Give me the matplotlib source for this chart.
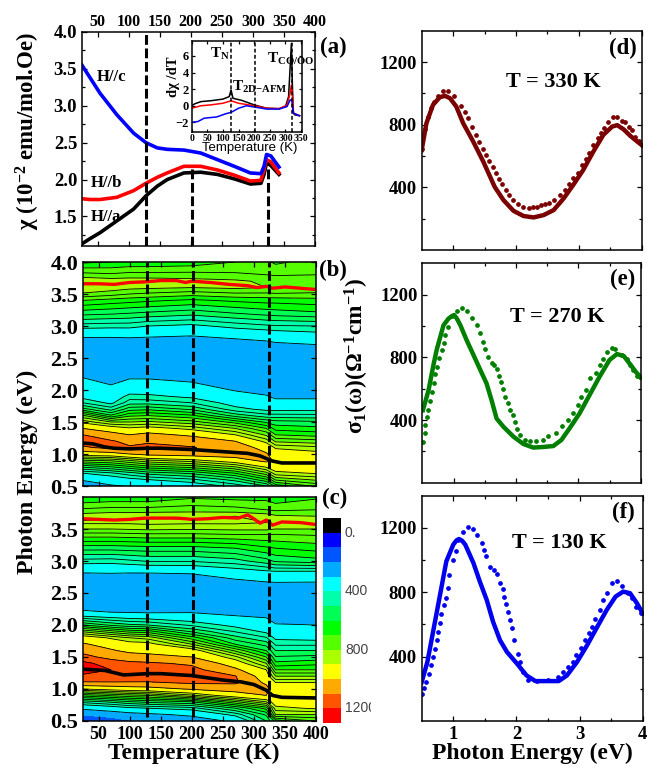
import numpy as np
import matplotlib
matplotlib.use("Agg")
import matplotlib.pyplot as plt
from matplotlib.colors import ListedColormap, BoundaryNorm
from matplotlib.ticker import MultipleLocator

plt.rcParams["font.family"] = "Liberation Serif"
plt.rcParams["font.weight"] = "bold"
plt.rcParams["mathtext.fontset"] = "custom"
plt.rcParams["mathtext.bf"] = "Liberation Serif:bold"
plt.rcParams["mathtext.rm"] = "Liberation Serif:bold"
plt.rcParams["mathtext.default"] = "bf"

W, H = 658, 782

# panel a, susceptibility
chi_T = [25, 38, 54, 81, 108, 128, 146, 162, 189, 216, 243, 270, 296, 313, 318, 322, 329, 342]
chi_c = [3.55, 3.38, 3.17, 2.88, 2.63, 2.50, 2.43, 2.41, 2.40, 2.36, 2.27, 2.18, 2.09, 2.08, 2.18, 2.34, 2.32, 2.17]
chi_b = [1.74, 1.73, 1.73, 1.76, 1.85, 1.95, 2.03, 2.09, 2.18, 2.18, 2.13, 2.06, 1.98, 1.99, 2.14, 2.27, 2.24, 2.09]
chi_a = [1.13, 1.20, 1.28, 1.44, 1.60, 1.78, 1.91, 2.00, 2.09, 2.10, 2.07, 2.01, 1.94, 1.95, 2.07, 2.23, 2.19, 2.07]

# inset, derivative
dchi_a_T = [0, 10, 30, 60, 100, 120, 126, 132, 160, 200, 240, 280, 300, 310, 319, 322, 325, 330, 345]
dchi_a = [0, .24, .5, .6, .8, 1.1, 1.9, .9, .65, .1, -.3, -.35, -.1, 1.1, 7.5, 2.7, -.9, -1.1, -1.2]
dchi_b_T = [0, 30, 60, 100, 126, 150, 200, 240, 280, 305, 315, 319, 322, 326, 345]
dchi_b = [-.3, 0, .1, .3, .6, .3, 0, -.3, -.35, .1, 1.5, 2.5, 1.5, -.9, -1.2]
dchi_c_T = [0, 20, 40, 80, 110, 126, 150, 175, 200, 240, 280, 305, 315, 320, 326, 345]
dchi_c = [-2, -1.9, -1.5, -1.35, -.95, -.8, -.3, 0, -.15, -.4, -.4, -.1, .7, .7, -.9, -1.2]

# contour maps, sigma at each energy for one temperature
map_T = [25, 70, 100, 130, 200, 270, 320, 335, 400]
map_E = [.5, .6, .7, .8, .9, 1.0, 1.1, 1.2, 1.3, 1.4, 1.5, 1.6, 1.7, 1.8, 1.9, 2.0, 2.2, 2.4, 2.6, 2.8, 3.0, 3.2, 3.4, 3.5, 3.6, 3.7, 3.8, 4.0]

b_25 = [240, 310, 400, 560, 745, 945, 1085, 1145, 1100, 1000, 880, 760, 570, 450, 375, 345, 298, 250, 240, 285, 425, 570, 700, 790, 850, 845, 770, 640]
b_70 = [290, 350, 440, 600, 760, 960, 1125, 1110, 1040, 945, 800, 610, 480, 385, 350, 320, 270, 245, 240, 285, 420, 560, 680, 770, 830, 830, 760, 650]
b_100 = [305, 380, 480, 640, 800, 1000, 1110, 1075, 1000, 910, 800, 690, 580, 480, 420, 365, 290, 250, 240, 290, 420, 550, 670, 750, 815, 830, 770, 660]
b_130 = [310, 400, 520, 680, 840, 1030, 1120, 1090, 1030, 930, 810, 700, 590, 480, 415, 365, 290, 250, 240, 285, 400, 540, 660, 740, 810, 830, 770, 660]
b_200 = [350, 440, 560, 720, 880, 1050, 1105, 1070, 980, 880, 770, 660, 540, 450, 385, 340, 275, 245, 235, 275, 385, 520, 640, 720, 800, 820, 770, 670]
b_270 = [420, 520, 650, 800, 950, 1060, 1060, 1000, 900, 800, 680, 530, 420, 370, 330, 295, 255, 235, 240, 300, 420, 550, 660, 740, 810, 810, 760, 700]
b_320 = [500, 640, 780, 910, 1030, 1010, 960, 880, 790, 700, 590, 470, 385, 345, 305, 280, 250, 230, 250, 310, 440, 570, 670, 740, 800, 790, 750, 710]
b_335 = [620, 760, 880, 950, 980, 950, 890, 790, 700, 630, 570, 470, 380, 325, 285, 265, 240, 225, 250, 320, 445, 575, 670, 745, 795, 785, 745, 690]
b_400 = [710, 810, 905, 950, 955, 925, 865, 770, 680, 615, 560, 465, 385, 325, 285, 265, 240, 225, 245, 345, 450, 590, 680, 740, 790, 780, 750, 720]

c_25 = [120, 205, 320, 470, 670, 900, 1090, 1170, 1270, 1230, 1130, 1070, 1010, 950, 790, 600, 310, 240, 235, 290, 430, 570, 720, 800, 860, 830, 760, 650]
c_70 = [150, 240, 355, 510, 710, 930, 1090, 1190, 1200, 1150, 1070, 1010, 965, 890, 720, 540, 300, 240, 235, 295, 425, 570, 720, 800, 860, 840, 770, 660]
c_100 = [190, 265, 385, 545, 735, 950, 1090, 1175, 1170, 1125, 1040, 980, 930, 850, 680, 510, 295, 240, 230, 290, 440, 575, 725, 805, 860, 840, 770, 660]
c_130 = [210, 280, 400, 565, 750, 960, 1090, 1170, 1160, 1115, 1030, 970, 925, 830, 670, 500, 290, 240, 230, 290, 455, 580, 730, 810, 865, 845, 770, 660]
c_200 = [240, 320, 430, 600, 840, 1010, 1115, 1160, 1130, 1085, 1000, 940, 800, 675, 540, 440, 295, 235, 225, 300, 455, 580, 730, 805, 860, 840, 780, 690]
c_270 = [320, 420, 550, 740, 950, 1040, 1115, 1105, 1020, 950, 865, 740, 600, 520, 445, 380, 270, 225, 245, 340, 480, 600, 740, 810, 860, 850, 770, 680]
c_320 = [500, 560, 670, 850, 1000, 1035, 980, 940, 900, 800, 700, 600, 530, 455, 385, 345, 265, 235, 265, 360, 530, 640, 740, 810, 850, 830, 750, 680]
c_335 = [620, 800, 880, 945, 960, 930, 900, 800, 700, 615, 555, 500, 440, 385, 345, 305, 250, 225, 270, 360, 560, 650, 740, 800, 840, 810, 740, 660]
c_400 = [700, 800, 910, 950, 955, 930, 900, 800, 700, 635, 565, 500, 440, 375, 335, 300, 250, 225, 270, 355, 580, 670, 750, 800, 830, 800, 750, 690]

# ridge lines drawn on the maps
ridge_b_T = [25, 40, 60, 75, 100, 130, 150, 175, 200, 230, 260, 290, 310, 320, 330, 345, 400]
ridge_b_E = [1.17, 1.16, 1.11, 1.09, 1.08, 1.09, 1.09, 1.08, 1.07, 1.05, 1.03, 1.01, .97, .93, .89, .86, .86]
high_b_T = [25, 50, 75, 100, 125, 150, 175, 190, 200, 230, 260, 290, 305, 320, 330, 350, 375, 400]
high_b_E = [3.66, 3.66, 3.65, 3.68, 3.69, 3.71, 3.71, 3.68, 3.70, 3.68, 3.65, 3.63, 3.60, 3.62, 3.59, 3.61, 3.59, 3.57]
ridge_c_T = [25, 60, 90, 130, 150, 200, 250, 280, 300, 320, 330, 345, 400]
ridge_c_E = [1.31, 1.29, 1.22, 1.24, 1.24, 1.21, 1.14, 1.11, 1.07, .98, .90, .87, .86]
high_c_T = [25, 50, 75, 100, 125, 150, 175, 190, 200, 225, 250, 275, 290, 300, 310, 320, 330, 345, 375, 400]
high_c_E = [3.66, 3.65, 3.64, 3.65, 3.67, 3.67, 3.67, 3.66, 3.65, 3.66, 3.68, 3.67, 3.72, 3.66, 3.59, 3.64, 3.56, 3.61, 3.60, 3.57]

# colour scale, one colour per 100 of sigma
band_edges = list(range(-100, 1301, 100))
band_colors = ["#000000", "#0000ff", "#0055ff", "#00aaff", "#00ffff", "#00ffaa", "#00ff55",
               "#00ff00", "#55ff00", "#aaff00", "#ffff00", "#ffaa00", "#ff5500", "#ff0000"]
line_levels = [300, 400, 450, 500, 550, 600, 650, 700, 750, 800, 850, 900, 1000, 1100, 1200]
cbar_ticks = [0, 400, 800, 1200]
cbar_labels = ["0.", "400", "800", "1200"]

# panel d, 330 K
d_solid_E = [.5, .575, .68, .79, .87, .95, 1.05, 1.16, 1.32, 1.48, 1.66, 1.8, 1.96, 2.12, 2.28, 2.44, 2.6, 2.76, 2.91, 3.07, 3.23, 3.39, 3.53, 3.61, 3.71, 3.82, 3.93, 4.0]
d_solid = [639, 809, 927, 976, 984, 969, 916, 809, 692, 564, 404, 319, 250, 217, 208, 223, 255, 330, 415, 511, 628, 735, 788, 797, 771, 728, 692, 670]
d_dot_E = [.5, .55, .6, .65, .7, .76, .84, .92, 1.01, 1.12, 1.19, 1.24, 1.3, 1.36, 1.41, 1.47, 1.52, 1.57, 1.63, 1.68, 1.73, 1.78, 1.84, 1.89, 1.96, 2.03, 2.11, 2.2, 2.27, 2.33, 2.4, 2.46, 2.53, 2.6, 2.7, 2.78, 2.85, 2.91, 2.98, 3.05, 3.11, 3.16, 3.23, 3.3, 3.35, 3.4, 3.47, 3.54, 3.61, 3.69, 3.74, 3.79, 3.85, 3.9, 3.95, 4.0]
d_dot = [645, 770, 850, 905, 945, 984, 1012, 1012, 984, 920, 878, 841, 788, 735, 692, 645, 607, 571, 528, 490, 453, 419, 383, 351, 319, 293, 276, 268, 272, 276, 285, 293, 302, 319, 351, 383, 421, 458, 494, 543, 581, 622, 671, 713, 745, 782, 820, 848, 848, 826, 820, 788, 763, 724, 699, 672]

# panel e, 270 K
e_solid_E = [.51, .6, .68, .73, .84, .92, .97, 1.01, 1.05, 1.11, 1.21, 1.32, 1.43, 1.53, 1.61, 1.69, 1.8, 1.96, 2.12, 2.28, 2.44, 2.6, 2.73, 2.86, 3.02, 3.18, 3.34, 3.5, 3.62, 3.73, 3.84, 3.92, 3.99]
e_solid = [463, 590, 754, 847, 1005, 1047, 1062, 1070, 1050, 1005, 910, 815, 719, 633, 527, 410, 357, 294, 247, 224, 228, 234, 273, 347, 442, 559, 676, 783, 821, 808, 751, 708, 676]
e_dot_E = [.51, .54, .55, .57, .59, .62, .65, .68, .71, .74, .77, .81, .84, .87, .91, .97, 1.05, 1.13, 1.22, 1.3, 1.37, 1.43, 1.47, 1.51, 1.56, 1.61, 1.65, 1.69, 1.73, 1.76, 1.8, 1.83, 1.87, 1.91, 1.95, 1.98, 2.02, 2.07, 2.15, 2.23, 2.33, 2.44, 2.52, 2.65, 2.74, 2.83, 2.92, 2.99, 3.05, 3.13, 3.19, 3.28, 3.35, 3.4, 3.46, 3.54, 3.59, 3.7, 3.78, 3.83, 3.88, 3.94, 3.99]
e_dot = [257, 316, 369, 422, 465, 524, 581, 639, 694, 736, 794, 847, 889, 942, 995, 1063, 1097, 1112, 1095, 1052, 1006, 953, 900, 853, 804, 762, 751, 726, 681, 645, 598, 550, 507, 465, 429, 386, 344, 306, 274, 263, 263, 274, 295, 320, 359, 401, 444, 497, 550, 592, 666, 698, 751, 787, 836, 857, 851, 815, 787, 751, 719, 681, 676]

# panel f, 130 K
f_solid_E = [.5, .59, .68, .79, .89, 1.0, 1.05, 1.09, 1.14, 1.19, 1.32, 1.42, 1.53, 1.63, 1.74, 1.85, 2.01, 2.16, 2.3, 2.48, 2.67, 2.8, 2.96, 3.12, 3.28, 3.43, 3.57, 3.69, 3.8, 3.91, 4.0]
f_solid = [242, 367, 554, 783, 992, 1096, 1122, 1131, 1120, 1096, 981, 867, 752, 617, 502, 429, 356, 283, 248, 248, 248, 283, 367, 471, 585, 690, 773, 804, 794, 731, 669]
f_dot_E = [.51, .54, .57, .61, .65, .68, .71, .74, .76, .79, .81, .85, .88, .91, .94, 1.0, 1.04, 1.08, 1.15, 1.23, 1.32, 1.38, 1.45, 1.49, 1.52, 1.58, 1.65, 1.7, 1.74, 1.78, 1.81, 1.83, 1.86, 1.9, 1.93, 1.96, 2.02, 2.06, 2.11, 2.19, 2.32, 2.5, 2.66, 2.74, 2.82, 2.9, 2.95, 3.03, 3.09, 3.15, 3.2, 3.25, 3.32, 3.37, 3.44, 3.51, 3.6, 3.68, 3.76, 3.83, 3.89, 3.97, 4.0]
f_dot = [169, 204, 242, 294, 346, 398, 450, 502, 554, 610, 663, 721, 767, 825, 908, 1002, 1054, 1127, 1175, 1204, 1196, 1158, 1106, 1065, 1023, 960, 940, 912, 856, 821, 773, 725, 679, 627, 575, 502, 419, 367, 304, 252, 248, 252, 273, 304, 335, 367, 408, 456, 502, 544, 585, 631, 690, 752, 794, 856, 867, 840, 794, 763, 711, 669, 669]

transition_T = [128, 202, 325]
inset_T = [126, 202, 321]


def axes_px(fig, left, top, right, bottom):
    return fig.add_axes([left / W, 1 - bottom / H, (right - left) / W, (bottom - top) / H])


def label_px(fig, x, y, s, **kw):
    fig.text(x / W, 1 - y / H, s, ha="center", va="center", **kw)


def style(ax, size):
    for s in ax.spines.values():
        s.set_linewidth(1.1)
    ax.tick_params(which="both", direction="in", top=True, right=True, width=0.9, labelsize=size)
    ax.tick_params(which="major", length=3.5)
    ax.tick_params(which="minor", length=2)


def draw_map(ax, table, ridge_T, ridge_E, high_T, high_E):
    ax.contourf(map_T, map_E, table, levels=band_edges, cmap=cmap, norm=norm)
    ax.contour(map_T, map_E, table, levels=line_levels, colors="k", linewidths=0.6)
    ax.plot(high_T, high_E, color="#ff0000", lw=2.4, solid_capstyle="butt")
    ax.plot(ridge_T, ridge_E, color="k", lw=2.6, solid_capstyle="butt")
    for t in transition_T:
        ax.plot([t, t], [0.56, 4.0], color="k", lw=2.2, dashes=(3.2, 1.2))
    ax.set_xlim(25, 400)
    ax.set_ylim(0.5, 4.0)
    ax.xaxis.set_major_locator(MultipleLocator(50))
    style(ax, 16)


def draw_sigma(ax, color, solid_E, solid, dot_E, dot):
    ax.plot(dot_E, dot, ls="none", marker="o", ms=2.4, color=color)
    ax.plot(solid_E, solid, color=color, lw=3.2)
    ax.set_xlim(0.5, 4)
    ax.set_ylim(0, 1400)
    ax.set_xticks([1, 2, 3, 4])
    ax.set_xticks([1.5, 2.5, 3.5], minor=True)
    ax.set_yticks([400, 800, 1200])
    ax.set_yticks([200, 600, 1000], minor=True)
    style(ax, 13.5)


cmap = ListedColormap(band_colors)
norm = BoundaryNorm(band_edges, cmap.N)

fig = plt.figure(figsize=(W / 100, H / 100), dpi=100)

# (a)
ax_a = axes_px(fig, 82, 32, 315, 246)
ax_a.plot(chi_T, chi_a, color="k", lw=2.6)
ax_a.plot(chi_T, chi_b, color="#ff0000", lw=2.6)
ax_a.plot(chi_T, chi_c, color="#0000ff", lw=2.6)
for t, top in zip(transition_T, [4.0, 2.18, 2.2]):
    ax_a.plot([t, t], [1.1, top], color="k", lw=2.2, dashes=(3.2, 1.2))
ax_a.set_xlim(25, 400)
ax_a.set_ylim(1.1, 4.0)
ax_a.xaxis.set_major_locator(MultipleLocator(50))
ax_a.yaxis.set_major_locator(MultipleLocator(0.5))
ax_a.yaxis.set_minor_locator(MultipleLocator(0.25))
style(ax_a, 13.5)
ax_a.tick_params(axis="x", labelsize=11.5, labeltop=True, labelbottom=False, pad=1.5)
label_px(fig, 112, 77, "H//c", fontsize=12)
label_px(fig, 106, 183, "H//b", fontsize=12)
label_px(fig, 106, 217, "H//a", fontsize=12)

# inset of (a)
ax_in = axes_px(fig, 191.7, 40.7, 301.7, 132.3)
ax_in.plot(dchi_a_T, dchi_a, color="k", lw=1.1)
ax_in.plot(dchi_b_T, dchi_b, color="#ff0000", lw=1.1)
ax_in.plot(dchi_c_T, dchi_c, color="#0000ff", lw=1.1)
for t in inset_T:
    ax_in.plot([t, t], [-3.2, 7.84], color="k", lw=1.1, dashes=(2.5, 1.5))
ax_in.set_xlim(0, 352)
ax_in.set_ylim(-3.2, 7.84)
ax_in.xaxis.set_major_locator(MultipleLocator(50))
ax_in.set_yticks([-2, 0, 2, 4, 6])
style(ax_in, 7)
ax_in.tick_params(axis="both", length=2)
ax_in.tick_params(axis="x", pad=1)
ax_in.tick_params(axis="y", labelsize=9, pad=2)
label_px(fig, 250, 148, "Temperature (K)", fontsize=9.5, family="Liberation Sans", weight="normal")
label_px(fig, 173, 77, "dχ /dT", fontsize=10.5, rotation=90)
label_px(fig, 220, 54, "T$_{N}$", fontsize=11)
label_px(fig, 260, 87, "T$_{2D{-}AFM}$", fontsize=11)
label_px(fig, 291, 59, "T$_{CO/OO}$", fontsize=11)
label_px(fig, 333, 47, "(a)", fontsize=16.5)

# (b)
ax_b = axes_px(fig, 83, 262, 316, 486)
table_b = np.column_stack([b_25, b_70, b_100, b_130, b_200, b_270, b_320, b_335, b_400])
draw_map(ax_b, table_b, ridge_b_T, ridge_b_E, high_b_T, high_b_E)
ax_b.tick_params(axis="x", labelbottom=False)
ax_b.set_yticks([0.5, 1.0, 1.5, 2.0, 2.5, 3.0, 3.5, 4.0])
label_px(fig, 333, 270, "(b)", fontsize=16.5)

# (c)
ax_c = axes_px(fig, 83, 497, 316, 721)
table_c = np.column_stack([c_25, c_70, c_100, c_130, c_200, c_270, c_320, c_335, c_400])
draw_map(ax_c, table_c, ridge_c_T, ridge_c_E, high_c_T, high_c_E)
ax_c.tick_params(axis="x", labelsize=13)
ax_c.set_yticks([0.5, 1.0, 1.5, 2.0, 2.5, 3.0, 3.5])
label_px(fig, 335, 498, "(c)", fontsize=16.5)

# colour bar with its clipped labels
ax_cb = axes_px(fig, 323, 518, 341, 723)
ax_cb.pcolormesh([0, 1], band_edges, np.array(band_edges[:-1]).reshape(-1, 1) + 50, cmap=cmap, norm=norm)
ax_cb.set_ylim(1300, -100)
ax_cb.axis("off")
ax_lab = axes_px(fig, 341, 518, 371, 723)
ax_lab.set_ylim(1300, -100)
ax_lab.set_xlim(0, 1)
ax_lab.axis("off")
for v, s in zip(cbar_ticks, cbar_labels):
    ax_lab.text(0.13, v, s, va="center", ha="left", fontsize=10, color="#444444",
                family="Liberation Sans", weight="normal", clip_on=True)

label_px(fig, 28, 131, "χ (10$^{-2}$ emu/mol.Oe)", fontsize=16.5, rotation=90)
label_px(fig, 27, 472, "Photon Energy (eV)", fontsize=17.3, rotation=90)
label_px(fig, 194, 753, "Temperature (K)", fontsize=17)

# (d) (e) (f)
ax_d = axes_px(fig, 421.7, 30.7, 641.7, 250)
draw_sigma(ax_d, "#7b0000", d_solid_E, d_solid, d_dot_E, d_dot)
ax_e = axes_px(fig, 422.3, 263.3, 640.7, 482.7)
draw_sigma(ax_e, "#007f00", e_solid_E, e_solid, e_dot_E, e_dot)
ax_f = axes_px(fig, 421.7, 495.7, 642.7, 721)
draw_sigma(ax_f, "#0000ee", f_solid_E, f_solid, f_dot_E, f_dot)
ax_d.tick_params(axis="x", labelbottom=False)
ax_e.tick_params(axis="x", labelbottom=False)
ax_f.tick_params(axis="x", labelsize=13.5)

label_px(fig, 553, 82, "T = 330 K", fontsize=16)
label_px(fig, 557, 317, "T = 270 K", fontsize=16)
label_px(fig, 559, 543, "T = 130 K", fontsize=16)
label_px(fig, 623, 48, "(d)", fontsize=16.5)
label_px(fig, 623, 279, "(e)", fontsize=16.5)
label_px(fig, 623, 512, "(f)", fontsize=16.5)
label_px(fig, 357, 356, "σ$_{1}$(ω)(Ω$^{-1}$cm$^{-1}$)", fontsize=16.8, rotation=90)
label_px(fig, 532, 753, "Photon Energy (eV)", fontsize=17)

fig.savefig("out.png", dpi=100)
